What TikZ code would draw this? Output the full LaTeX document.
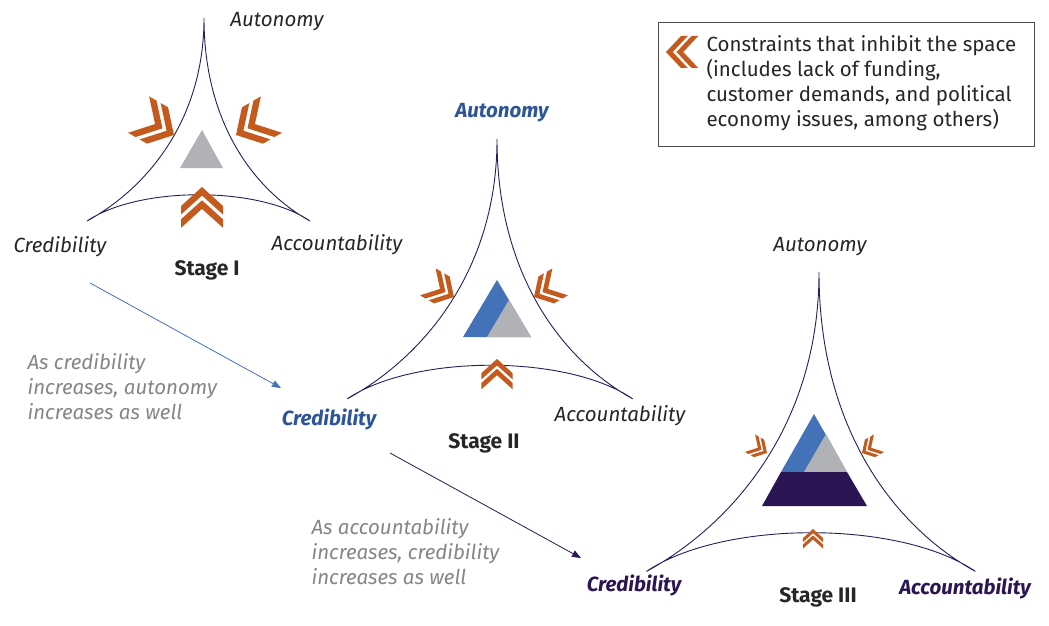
\documentclass[tikz,border=0pt]{standalone}
\usepackage{fontspec}
\setmainfont{Fira Sans}
\usetikzlibrary{positioning,arrows.meta}
\definecolor{navyline}{HTML}{231E5C}
\definecolor{chevorange}{HTML}{C55A1E}
\definecolor{stageblue}{HTML}{4472B8}
\definecolor{labelblue}{HTML}{2E5597}
\definecolor{stagegray}{HTML}{B1B2B6}
\definecolor{darkpurple}{HTML}{2B1653}
\definecolor{notegray}{HTML}{85858A}

\begin{document}
\begin{tikzpicture}[x=1pt,y=-1pt,
curve/.style={draw=navyline,line width=0.9pt},
lab/.style={font=\fontsize{20.5}{24}\selectfont\itshape,text=black!85},
boldlab/.style={font=\fontsize{20.5}{24}\selectfont\bfseries\itshape,text=#1},
stagelab/.style={font=\fontsize{21}{24}\selectfont\bfseries,text=black!85},
note/.style={font=\fontsize{20.5}{25}\selectfont\itshape,text=notegray,align=left,anchor=west},
dchev/.pic={\foreach \s in {0,0.7}{
  \fill[chevorange] (-\s,0) -- (-1-\s,1) -- (-1.45-\s,1) -- (-0.45-\s,0) -- (-1.45-\s,-1) -- (-1-\s,-1) -- cycle;}},
trishape/.pic={\draw[curve] (0,0) .. controls (0,105) and (-60,172) .. (-117,203)
  .. controls (-65,168) and (55,168) .. (106,203) .. controls (50,172) and (0,105) .. (0,0);}]
\useasboundingbox (0,0) rectangle (1049,626);

% stage I
\pic at (204,18) {trishape};
\fill[stagegray] (202,130) -- (223,168) -- (180,168) -- cycle;
\pic[rotate=90,xscale=19,yscale=21] at (202,187) {dchev};
\pic[rotate=-30,xscale=19,yscale=21] at (174,135) {dchev};
\pic[rotate=210,xscale=19,yscale=21] at (236,135) {dchev};
\node[lab] (autI) at (277,22) {Autonomy};
\node[lab] (credI) at (60,247) {Credibility};
\node[lab] (accI) at (337,245) {Accountability};
\node[stagelab] (stI) at (207,270) {Stage I};

% stage II
\pic[scale=1.28] at (497,139) {trishape};
\fill[stageblue] (497,280) -- (531,337) -- (463,337) -- cycle;
\fill[stagegray] (509,300) -- (531,337) -- (487,337) -- cycle;
\pic[rotate=90,scale=0.74,xscale=19,yscale=21] at (497,359) {dchev};
\pic[rotate=-30,scale=0.74,xscale=19,yscale=21] at (454,297) {dchev};
\pic[rotate=210,scale=0.74,xscale=19,yscale=21] at (534,297) {dchev};
\node[boldlab=labelblue] (autII) at (502,113) {Autonomy};
\node[boldlab=labelblue] (credII) at (329,419) {Credibility};
\node[lab] (accII) at (620,416) {Accountability};
\node[stagelab] (stII) at (484,443) {Stage II};

% stage III
\pic[scale=1.475] at (819,272) {trishape};
\fill[stageblue] (814,414) -- (847,472) -- (781,472) -- cycle;
\fill[stagegray] (826,434) -- (847,472) -- (804,472) -- cycle;
\fill[darkpurple] (781,472) -- (847,472) -- (867,506) -- (762,506) -- cycle;
\pic[rotate=90,scale=0.48,xscale=19,yscale=21] at (813,529) {dchev};
\pic[rotate=-30,scale=0.48,xscale=19,yscale=21] at (767,453) {dchev};
\pic[rotate=210,scale=0.48,xscale=19,yscale=21] at (862,453) {dchev};
\node[lab] (autIII) at (820,247) {Autonomy};
\node[boldlab=darkpurple] (credIII) at (634,585) {Credibility};
\node[boldlab=darkpurple] (accIII) at (965,588) {Accountability};
\node[stagelab] (stIII) at (818,597) {Stage III};

% transitions
\coordinate (fromI) at (90,283);
\coordinate (toII) at (281,388);
\coordinate (fromII) at (390,453);
\coordinate (toIII) at (581,558);
\draw[-{Triangle[length=9pt,width=7pt]},stageblue,line width=0.8pt] (fromI) -- (toII);
\draw[-{Triangle[length=9pt,width=7pt]},darkpurple,line width=0.8pt] (fromII) -- (toIII);
\node[note] (noteI) at (24,387) {As credibility\\increases, autonomy\\increases as well};
\node[note] (noteII) at (308,552) {As accountability\\increases, credibility\\increases as well};

% legend
\node[draw=black!70,line width=0.7pt,minimum width=376pt,minimum height=124pt] (legend) at (846,84) {};
\pic[rotate=180,xscale=15,yscale=16] at (666,52) {dchev};
\node[font=\fontsize{20.5}{25}\selectfont,text=black!85,align=left,anchor=west] (legtext) at (703,83)
  {Constraints that inhibit the space\\(includes lack of funding,\\customer demands, and political\\economy issues, among others)};
\end{tikzpicture}
\end{document}
